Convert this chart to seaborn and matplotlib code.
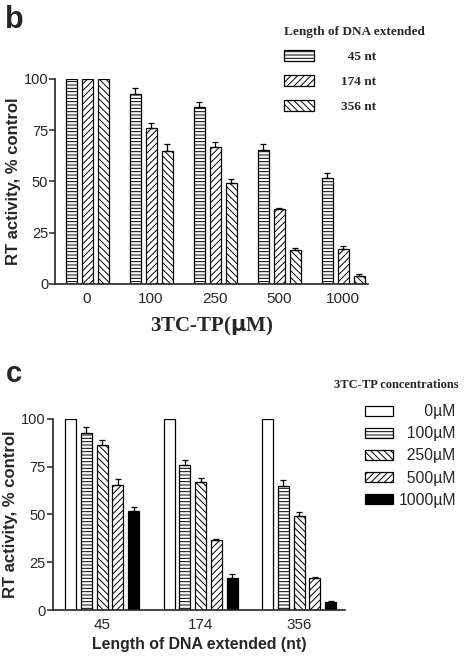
import pandas as pd
import numpy as np
import matplotlib
matplotlib.use("Agg")
import matplotlib.pyplot as plt
from matplotlib.patches import Patch
import seaborn as sns

# data
concs = ["0", "100", "250", "500", "1000"]
lengths = ["45", "174", "356"]
act_45 = [100, 92.7, 86.5, 65.4, 51.8]
act_174 = [100, 75.9, 66.8, 36.7, 16.9]
act_356 = [100, 65.0, 49.1, 16.6, 4.0]
err_45 = [0, 2.8, 2.4, 3.0, 2.1]
err_174 = [0, 2.5, 2.5, 0.5, 1.7]
err_356 = [0, 3.1, 2.1, 0.9, 0.9]

len_labels = ["45 nt", "174 nt", "356 nt"]
conc_labels = ["0\u00b5M", "100\u00b5M", "250\u00b5M", "500\u00b5M", "1000\u00b5M"]

rows = []
for ln, acts, errs in zip(lengths, [act_45, act_174, act_356], [err_45, err_174, err_356]):
    for c, a, e in zip(concs, acts, errs):
        rows.append({"length": ln, "conc": c, "activity": a, "err": e})
df = pd.DataFrame(rows)

sns.set_theme(style="ticks")
plt.rcParams["font.family"] = ["Liberation Sans", "DejaVu Sans"]
plt.rcParams["hatch.linewidth"] = 0.7
SERIF = ["Liberation Serif", "DejaVu Serif"]

fig = plt.figure(figsize=(4.67, 6.57), dpi=100)
ax_b = fig.add_axes([0.118, 0.568, 0.670, 0.312])
ax_c = fig.add_axes([0.113, 0.0715, 0.626, 0.291])


def style_bars(ax, hatches, facecolors, data, hue_col, hue_order, x_col, x_order):
    for cont, h, fc, lvl in zip(ax.containers, hatches, facecolors, hue_order):
        sub = data[data[hue_col] == lvl].set_index(x_col).loc[x_order]
        xs, ys = [], []
        for p in cont.patches:
            p.set_facecolor(fc)
            p.set_edgecolor("black")
            p.set_linewidth(0.9)
            p.set_hatch(h)
            xs.append(p.get_x() + p.get_width() / 2)
            ys.append(p.get_height())
        e = sub["err"].values
        mask = e > 0
        ax.errorbar(np.array(xs)[mask], np.array(ys)[mask],
                    yerr=[np.zeros(mask.sum()), e[mask]],
                    fmt="none", ecolor="black", elinewidth=0.9,
                    capsize=2.5, capthick=0.9)


def style_axes(ax):
    sns.despine(ax=ax)
    ax.set_ylim(0, 100)
    ax.set_yticks([0, 25, 50, 75, 100])
    ax.spines["left"].set_linewidth(1.2)
    ax.spines["bottom"].set_linewidth(1.2)
    ax.tick_params(axis="y", length=4, width=1.1, labelsize=10.5, pad=1)
    ax.tick_params(axis="x", length=0, labelsize=11, pad=6)
    ax.set_ylabel("RT activity, % control", fontsize=12, fontweight="bold", labelpad=2)


# panel b
sns.barplot(data=df, x="conc", y="activity", hue="length", order=concs,
            hue_order=lengths, width=0.75, gap=0.31, ax=ax_b, legend=False,
            errorbar=None)
hb = ["-----", "/////", "\\\\\\\\\\"]
style_bars(ax_b, hb, ["white"] * 3, df, "length", lengths, "conc", concs)
style_axes(ax_b)
ax_b.set_xlim(-0.5, 4.39)
ax_b.set_xlabel("3TC-TP($\\mathbf{\\mu}$M)", fontsize=15, fontweight="bold",
                family=SERIF, labelpad=6)
handles_b = [Patch(facecolor="white", edgecolor="black", hatch=h, linewidth=0.9) for h in hb]
leg_b = fig.legend(handles_b, ["  " + len_labels[0], len_labels[1], len_labels[2]],
                   title="Length of DNA extended",
                   loc="upper left", bbox_to_anchor=(0.608, 0.960), frameon=False,
                   borderpad=0, borderaxespad=0,
                   handlelength=2.3, handleheight=0.9, handletextpad=2.0,
                   labelspacing=0.9,
                   prop={"family": SERIF, "weight": "bold", "size": 9.5},
                   title_fontproperties={"family": SERIF, "weight": "bold", "size": 9.5})
leg_b._legend_box.align = "left"

# panel c
sns.barplot(data=df, x="length", y="activity", hue="conc", order=lengths,
            hue_order=concs, width=0.8, gap=0.30, ax=ax_c, legend=False,
            errorbar=None)
hc = ["", "-----", "\\\\\\\\\\", "/////", ""]
fcs = ["white", "white", "white", "white", "black"]
style_bars(ax_c, hc, fcs, df, "conc", concs, "length", lengths)
style_axes(ax_c)
ax_c.set_xlim(-0.5, 2.467)
ax_c.set_xlabel("Length of DNA extended (nt)", fontsize=11.4, fontweight="bold", labelpad=3)
handles_c = [Patch(facecolor=f, edgecolor="black", hatch=h, linewidth=0.9) for h, f in zip(hc, fcs)]
pad = [" " * (2 * (4 - len(c))) for c in concs]
leg_c = fig.legend(handles_c, [p + l for p, l in zip(pad, conc_labels)],
                   loc="upper right", bbox_to_anchor=(0.976, 0.385), frameon=False,
                   borderpad=0, borderaxespad=0,
                   handlelength=1.8, handleheight=0.6, handletextpad=0.35,
                   labelspacing=0.46,
                   prop={"size": 11.3})
fig.text(0.981, 0.414, "3TC-TP concentrations", ha="right", va="center",
         family=SERIF, fontweight="bold", fontsize=9)

fig.text(0.01, 0.993, "b", fontsize=22, fontweight="bold", va="top")
fig.text(0.012, 0.452, "c", fontsize=21, fontweight="bold", va="top")

fig.savefig("out.png", dpi=100, facecolor="white")
